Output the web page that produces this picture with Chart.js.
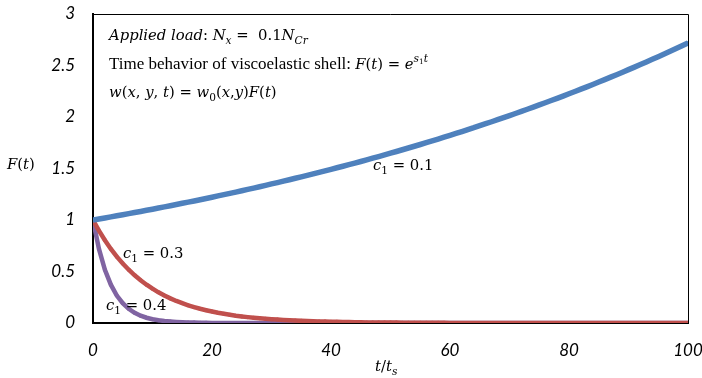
<!DOCTYPE html>
<html>
<head>
<meta charset="utf-8">
<script src="https://cdn.jsdelivr.net/npm/chart.js@4.4.1/dist/chart.umd.min.js"></script>
<style>
  html, body { margin: 0; padding: 0; background: #fff; }
  #wrap { width: 702px; height: 378px; }
</style>
</head>
<body>
<div id="wrap"><canvas id="fChart" width="702" height="378"></canvas></div>
<script>
// time grid t/t_s
const tValues = [
  0, 1, 2, 3, 4, 5, 6, 7, 8, 9, 10, 11, 12, 13, 14, 15, 16, 17, 18, 19,
  20, 21, 22, 23, 24, 25, 26, 27, 28, 29, 30, 31, 32, 33, 34, 35, 36, 37, 38, 39,
  40, 41, 42, 43, 44, 45, 46, 47, 48, 49, 50, 51, 52, 53, 54, 55, 56, 57, 58, 59,
  60, 61, 62, 63, 64, 65, 66, 67, 68, 69, 70, 71, 72, 73, 74, 75, 76, 77, 78, 79,
  80, 81, 82, 83, 84, 85, 86, 87, 88, 89, 90, 91, 92, 93, 94, 95, 96, 97, 98, 99,
  100
];

// F(t) for c1 = 0.1
const fC01 = [
  1.000, 1.010, 1.020, 1.030, 1.041, 1.051, 1.062, 1.073, 1.083, 1.094,
  1.105, 1.116, 1.127, 1.139, 1.150, 1.162, 1.174, 1.185, 1.197, 1.209,
  1.221, 1.234, 1.246, 1.259, 1.271, 1.284, 1.297, 1.310, 1.323, 1.336,
  1.350, 1.363, 1.377, 1.391, 1.405, 1.419, 1.433, 1.448, 1.462, 1.477,
  1.492, 1.507, 1.522, 1.537, 1.553, 1.568, 1.584, 1.600, 1.616, 1.632,
  1.649, 1.665, 1.682, 1.699, 1.716, 1.733, 1.751, 1.768, 1.786, 1.804,
  1.822, 1.840, 1.859, 1.878, 1.896, 1.916, 1.935, 1.954, 1.974, 1.994,
  2.014, 2.034, 2.054, 2.075, 2.096, 2.117, 2.138, 2.160, 2.181, 2.203,
  2.226, 2.248, 2.270, 2.293, 2.316, 2.340, 2.363, 2.387, 2.411, 2.435,
  2.460, 2.484, 2.509, 2.535, 2.560, 2.586, 2.612, 2.638, 2.664, 2.691,
  2.718
];

// F(t) for c1 = 0.3
const fC03 = [
  1.000, 0.896, 0.803, 0.719, 0.644, 0.577, 0.517, 0.463, 0.415, 0.372,
  0.333, 0.298, 0.267, 0.239, 0.214, 0.192, 0.172, 0.154, 0.138, 0.124,
  0.111, 0.099, 0.089, 0.080, 0.071, 0.064, 0.057, 0.051, 0.046, 0.041,
  0.037, 0.033, 0.030, 0.027, 0.024, 0.021, 0.019, 0.017, 0.015, 0.014,
  0.012, 0.011, 0.010, 0.009, 0.008, 0.007, 0.006, 0.006, 0.005, 0.005,
  0.004, 0.004, 0.003, 0.003, 0.003, 0.002, 0.002, 0.002, 0.002, 0.002,
  0.001, 0.001, 0.001, 0.001, 0.001, 0.001, 0, 0, 0, 0,
  0, 0, 0, 0, 0, 0, 0, 0, 0, 0,
  0, 0, 0, 0, 0, 0, 0, 0, 0, 0,
  0, 0, 0, 0, 0, 0, 0, 0, 0, 0,
  0
];

// F(t) for c1 = 0.4
const fC04 = [
  1.000, 0.719, 0.517, 0.372, 0.267, 0.192, 0.138, 0.099, 0.071, 0.051,
  0.037, 0.027, 0.019, 0.014, 0.010, 0.007, 0.005, 0.004, 0.003, 0.002,
  0.001, 0, 0, 0, 0, 0, 0, 0, 0, 0,
  0, 0, 0, 0, 0, 0, 0, 0, 0, 0,
  0, 0, 0, 0, 0, 0, 0, 0, 0, 0,
  0, 0, 0, 0, 0, 0, 0, 0, 0, 0,
  0, 0, 0, 0, 0, 0, 0, 0, 0, 0,
  0, 0, 0, 0, 0, 0, 0, 0, 0, 0,
  0, 0, 0, 0, 0, 0, 0, 0, 0, 0,
  0, 0, 0, 0, 0, 0, 0, 0, 0, 0,
  0
];

const yTicks = [0, 0.5, 1, 1.5, 2, 2.5, 3];
const xTicks = [0, 20, 40, 60, 80, 100];

function pts(ys) {
  return tValues.map((t, i) => ({ x: t, y: ys[i] }));
}

function series(ys, color, w) {
  return {
    data: pts(ys),
    borderColor: color,
    backgroundColor: color,
    borderWidth: w,
    pointRadius: 2,
    pointBorderWidth: 0,
    tension: 0
  };
}

// text runs: plain text in Times-like serif, math in a wider serif
const SERIF = '"Liberation Serif", serif';
const MATH = '"DejaVu Serif", serif';
function drawRuns(ctx, runs, x, y, size) {
  let cx = x;
  runs.forEach(r => {
    let s = r.m ? size * 0.87 : size, dy = 0;
    if (r.sub) { s *= 0.72; dy = size * 0.25; }
    if (r.sup) { s *= 0.72; dy = -size * 0.42; }
    if (r.supsub) { s *= 0.5; dy = -size * 0.3; }
    ctx.font = (r.i ? 'italic ' : '') + s.toFixed(1) + 'px ' + (r.m ? MATH : SERIF);
    ctx.fillText(r.t, cx, y + dy);
    cx += ctx.measureText(r.t).width;
  });
}

const notes = {
  id: 'notes',
  afterDraw(chart) {
    const ctx = chart.ctx;
    const a = chart.chartArea;
    ctx.save();
    // frame top & right
    ctx.strokeStyle = '#000';
    ctx.lineWidth = 1;
    ctx.beginPath();
    ctx.moveTo(a.left, a.top + 0.5);
    ctx.lineTo(a.right + 0.5, a.top + 0.5);
    ctx.lineTo(a.right + 0.5, a.bottom);
    ctx.stroke();

    ctx.fillStyle = '#000';
    ctx.textBaseline = 'alphabetic';
    ctx.textAlign = 'left';
    const fs = 17;
    drawRuns(ctx, [
      { t: 'Applied load', i: true, m: true }, { t: ': ', m: true }, { t: 'N', i: true, m: true },
      { t: 'x', i: true, m: true, sub: true }, { t: ' =  0.1', m: true }, { t: 'N', i: true, m: true },
      { t: 'Cr', i: true, m: true, sub: true }
    ], 109, 40, fs);
    drawRuns(ctx, [
      { t: 'Time behavior of viscoelastic shell: ' }, { t: 'F', i: true, m: true }, { t: '(', m: true },
      { t: 't', i: true, m: true }, { t: ') = ', m: true }, { t: 'e', i: true, m: true },
      { t: 's', i: true, m: true, sup: true }, { t: '1', m: true, supsub: true },
      { t: 't', i: true, m: true, sup: true }
    ], 109, 69, fs);
    drawRuns(ctx, [
      { t: 'w', i: true, m: true }, { t: '(', m: true }, { t: 'x', i: true, m: true }, { t: ', ', m: true },
      { t: 'y', i: true, m: true }, { t: ', ', m: true }, { t: 't', i: true, m: true }, { t: ') = ', m: true },
      { t: 'w', i: true, m: true }, { t: '0', m: true, sub: true }, { t: '(', m: true },
      { t: 'x', i: true, m: true }, { t: ',', m: true }, { t: 'y', i: true, m: true }, { t: ')', m: true },
      { t: 'F', i: true, m: true }, { t: '(', m: true }, { t: 't', i: true, m: true }, { t: ')', m: true }
    ], 109, 97, fs);

    const lab = v => [{ t: 'c', i: true, m: true }, { t: '1', m: true, sub: true }, { t: ' = ' + v, m: true }];
    drawRuns(ctx, lab('0.1'), 373, 170, fs);
    drawRuns(ctx, lab('0.3'), 123, 258, fs);
    drawRuns(ctx, lab('0.4'), 106, 310, fs);

    // axis titles
    drawRuns(ctx, [{ t: 'F', i: true, m: true }, { t: '(', m: true }, { t: 't', i: true, m: true }, { t: ')', m: true }], 7, 169, 17);
    drawRuns(ctx, [{ t: 't', i: true, m: true }, { t: '/', m: true }, { t: 't', i: true, m: true }, { t: 's', i: true, m: true, sub: true }], 375, 371, 17);
    ctx.restore();
  }
};

const tickFont = { family: 'Lato, "Open Sans", sans-serif', size: 17, style: 'italic' };

// pin the plot area: fixed axis sizes, no label overhang padding
function pin(size) {
  return s => {
    if (s.isHorizontal()) s.height = size; else s.width = size;
    s.paddingLeft = s.paddingRight = s.paddingTop = s.paddingBottom = 0;
  };
}

new Chart(document.getElementById('fChart'), {
  type: 'line',
  data: {
    datasets: [
      series(fC01, '#4F81BD', 5.5),
      series(fC03, '#C0504D', 4.5),
      series(fC04, '#8064A2', 4.5)
    ]
  },
  options: {
    responsive: false,
    animation: false,
    layout: { padding: { top: 14, right: 14, left: 0, bottom: 0 } },
    plugins: { legend: { display: false }, tooltip: { enabled: false } },
    scales: {
      x: {
        type: 'linear',
        min: 0,
        max: 100,
        afterBuildTicks: s => { s.ticks = xTicks.map(v => ({ value: v })); },
        afterFit: pin(55),
        grid: { display: false, drawTicks: false },
        border: { color: '#000', width: 2 },
        ticks: { color: '#000', font: tickFont, padding: 17, maxRotation: 0, callback: v => String(v) }
      },
      y: {
        min: 0,
        max: 3,
        afterBuildTicks: s => { s.ticks = yTicks.map(v => ({ value: v })); },
        afterFit: pin(93),
        grid: { display: false, drawTicks: false },
        border: { color: '#000', width: 2 },
        ticks: { color: '#000', font: tickFont, padding: 18, callback: v => String(v) }
      }
    }
  },
  plugins: [notes]
});
</script>
</body>
</html>
